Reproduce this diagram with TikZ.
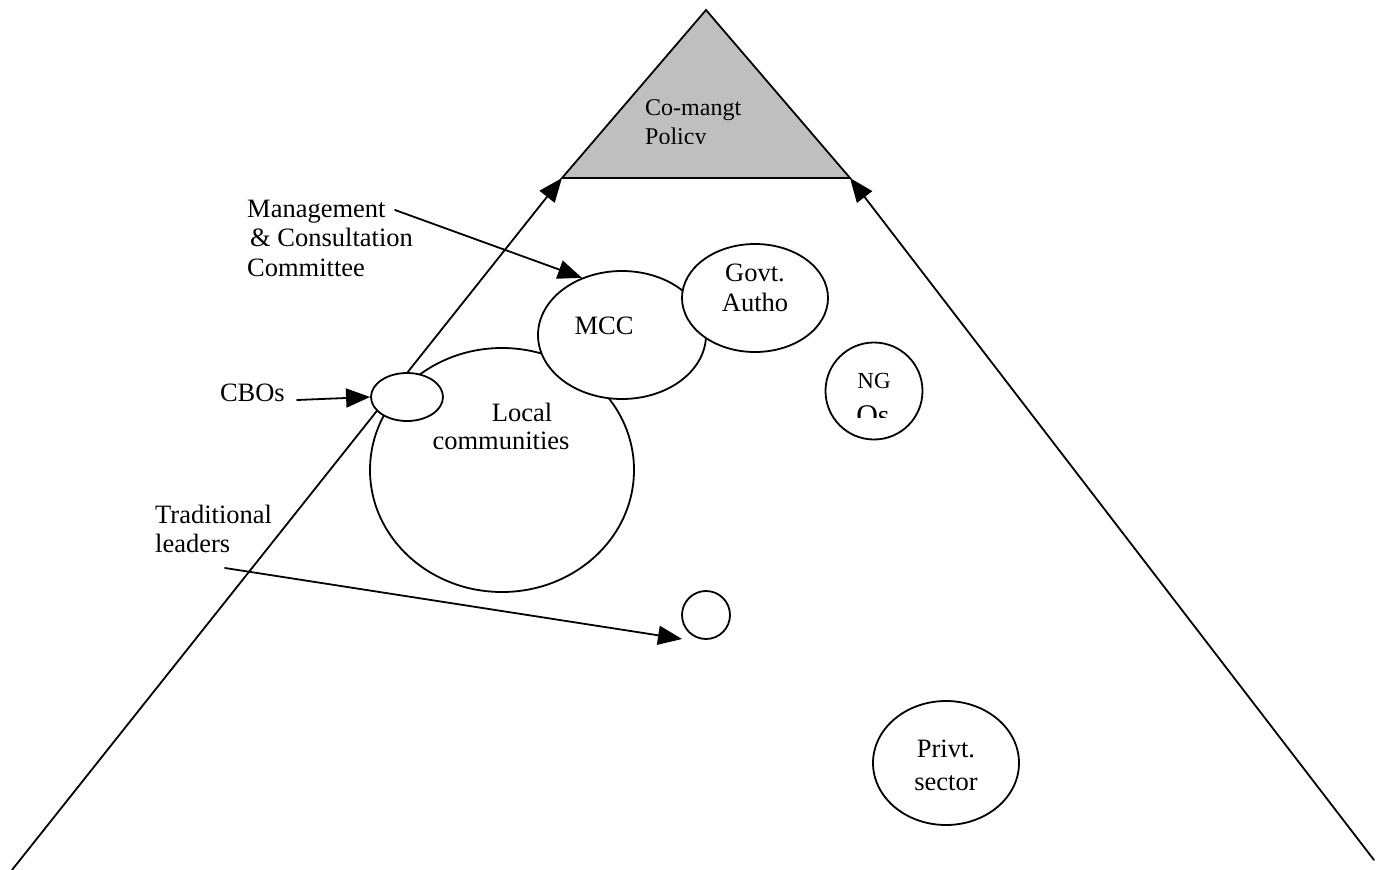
\documentclass[tikz,border=0pt]{standalone}
\usepackage{fontspec}
\setmainfont{Liberation Serif}
\usetikzlibrary{arrows.meta,shapes.geometric}

\tikzset{
  wire/.style={line width=1.8pt, line cap=round},
  pointer/.style={wire, -{Triangle[length=24pt,width=19pt]}},
  blob/.style={ellipse, draw, fill=white, line width=1.8pt, inner sep=0pt},
  lbl/.style={font=\fontsize{26.5}{29.5}\selectfont, inner sep=0pt},
  small/.style={font=\fontsize{23}{26}\selectfont, inner sep=0pt},
}

\begin{document}
\begin{tikzpicture}[x=1pt,y=-1pt]
\useasboundingbox (0,0) rectangle (1382,870);

% apex triangle: co-management policy
\coordinate (apex) at (706,10);
\coordinate (bl) at (562,178);
\coordinate (br) at (850,178);
\filldraw[fill=black!25, line width=1.8pt, line join=miter] (apex) -- (br) -- (bl) -- cycle;
\begin{scope}
  \clip (600,80) rectangle (800,143);
  \node[lbl, font=\fontsize{24}{29}\selectfont, anchor=west, align=left] (policy) at (645,125) {Co-mangt\\Policy};
\end{scope}

% the two sides of the pyramid rising to the policy
\coordinate (lfoot) at (12,870);
\coordinate (rfoot) at (1374,860);
\draw[pointer] (lfoot) -- (bl);
\draw[pointer] (rfoot) -- (br);

% actors
\node[blob, minimum width=264pt, minimum height=244pt] (local) at (502,470) {};
\node[blob, minimum width=168pt, minimum height=128pt] (mcc) at (622,335) {};
\node[blob, minimum width=146pt, minimum height=108pt] (govt) at (755,298) {};
\node[blob, minimum width=72pt, minimum height=48pt] (cbo) at (407,397) {};
\node[blob, minimum width=97pt, minimum height=97pt] (ngo) at (874,391) {};
\node[blob, minimum width=48pt, minimum height=48pt] (trad) at (706,615) {};
\node[blob, minimum width=146pt, minimum height=124pt] (priv) at (946,763) {};

% texts inside the actors
\node[lbl] (localA) at (522,412) {Local};
\node[lbl] (localB) at (501,441) {communities};
\node[lbl] (mcctext) at (604,326) {MCC};
\node[lbl, align=center] (govttext) at (755,288) {Govt.\\Autho};
\node[small] (ngA) at (874,381) {NG};
\begin{scope}
  \clip (830,400) rectangle (920,417);
  \node[lbl, font=\fontsize{30}{32}\selectfont, anchor=base] (ngB) at (873,425) {Os};
\end{scope}
\node[lbl, font=\fontsize{26.5}{33}\selectfont, align=center] (privtext) at (946,765) {Privt.\\sector};

% outside labels with their pointers
\node[lbl, anchor=west, align=left] (mgmt) at (247,238) {Management\\\hspace{3pt}\& Consultation\\Committee};
\coordinate (mgmtfrom) at (395,210);
\draw[pointer] (mgmtfrom) -- (mcc.125);

\node[lbl, anchor=east] (cbotext) at (285,393) {CBOs};
\coordinate (cbofrom) at (297,400);
\draw[pointer] (cbofrom) -- (cbo.west);

\node[lbl, anchor=west, align=left] (tradtext) at (155,529) {Traditional\\leaders};
\coordinate (tradfrom) at (225,568);
\coordinate (tradtip) at (682,639);
\draw[pointer] (tradfrom) -- (tradtip);
\end{tikzpicture}
\end{document}
